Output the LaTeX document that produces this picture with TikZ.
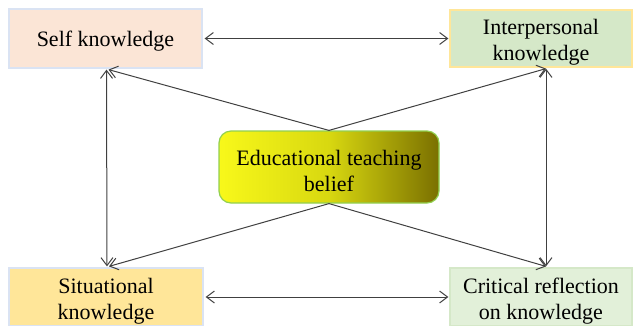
\documentclass[tikz,border=0pt]{standalone}
\usepackage{fontspec}
\setmainfont{Liberation Serif}
\usetikzlibrary{arrows.meta,calc}
\definecolor{selffill}{HTML}{FBE5D6}
\definecolor{selfline}{HTML}{DAE3F3}
\definecolor{interfill}{HTML}{D5E8C8}
\definecolor{interline}{HTML}{FFE699}
\definecolor{sitfill}{HTML}{FFE699}
\definecolor{sitline}{HTML}{DAE3F3}
\definecolor{critfill}{HTML}{E2F0D9}
\definecolor{critline}{HTML}{D5E8C8}
\definecolor{gradL}{HTML}{F8F81A}
\definecolor{gradM}{HTML}{D8D810}
\definecolor{gradR}{HTML}{7A7000}
\definecolor{eduline}{HTML}{92D050}
\definecolor{arrowc}{HTML}{404040}
\newcommand\lowstrut{\rule{0pt}{23pt}}
\tikzset{
  kbox/.style={rectangle, line width=1.2pt, align=center, inner sep=0pt,
    font=\fontsize{22}{26}\selectfont, text=black},
  conn/.style={draw=arrowc, line width=1pt,
    arrows={-Straight Barb[length=8pt,width=12pt,line width=1pt]}},
  biconn/.style={draw=arrowc, line width=1pt,
    arrows={Straight Barb[length=8pt,width=12pt,line width=1pt]-Straight Barb[length=8pt,width=12pt,line width=1pt]}},
}
\begin{document}
\begin{tikzpicture}[x=1pt,y=-1pt]
\useasboundingbox (0,0) rectangle (633,325);
\node[kbox, fill=selffill, draw=selfline, minimum width=193pt, minimum height=59pt] (self) at (105.5,38.5) {\rule{0pt}{21.5pt}Self knowledge};
\node[kbox, fill=interfill, draw=interline, minimum width=182pt, minimum height=57pt] (inter) at (541,38.5) {\lowstrut Interpersonal\\knowledge};
\node[kbox, fill=sitfill, draw=sitline, minimum width=194pt, minimum height=58pt] (sit) at (106,297) {\lowstrut Situational\\knowledge};
\node[kbox, fill=critfill, draw=critline, minimum width=182pt, minimum height=58pt] (crit) at (541,297) {\lowstrut Critical reflection\\on knowledge};
\node[kbox, left color=gradL, right color=gradR, middle color=gradM, draw=eduline, rounded corners=12pt, minimum width=220pt, minimum height=72pt] (edu) at (329,167) {\rule{0pt}{22.5pt}Educational teaching\\belief};
\draw[biconn] ([xshift=2pt]self.east) -- ([xshift=-1pt]inter.west |- self.east);
\draw[biconn] ([xshift=2pt]sit.east) -- ([xshift=-1pt]crit.west |- sit.east);
\coordinate (selfb) at ([xshift=1pt,yshift=-1pt]self.south);
\coordinate (sitt) at ([xshift=1pt,yshift=1pt]sit.north);
\coordinate (interb) at ([xshift=5pt,yshift=-1pt]inter.south);
\coordinate (critt) at ([xshift=5pt,yshift=1pt]crit.north);
\draw[biconn] (selfb) -- (sitt);
\draw[biconn] (interb) -- (critt);
\draw[conn] (edu.north) -- ([xshift=2pt]selfb);
\draw[conn] (edu.north) -- (interb);
\draw[conn] (edu.south) -- ([xshift=2pt]sitt);
\draw[conn] (edu.south) -- (critt);
\end{tikzpicture}
\end{document}
